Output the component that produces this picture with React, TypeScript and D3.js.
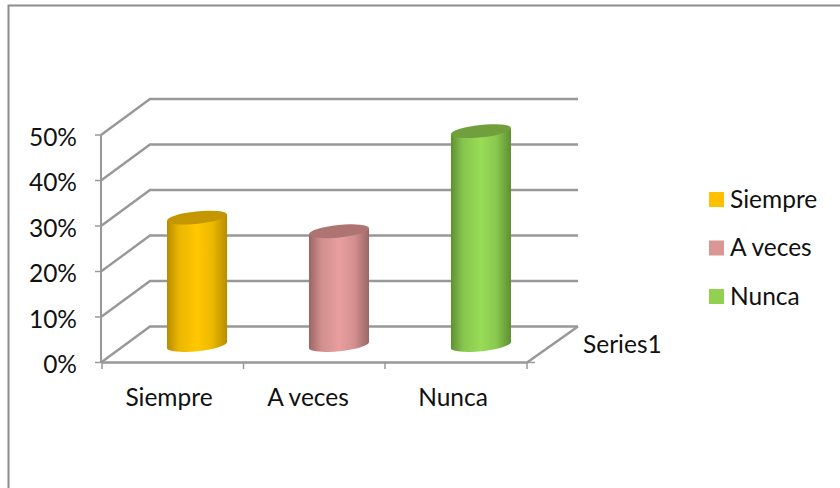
import React from "react";
import * as d3 from "d3";

const categories = ["Siempre", "A veces", "Nunca"];
const values = [28, 25, 47];
const yTicks = [0, 10, 20, 30, 40, 50];
const bodyColors = ["#FFC800", "#E89E9E", "#98DC58"];
const edgeColors = ["#B88C00", "#9A6664", "#5F8F32"];
const topColors = ["#C49600", "#AE7472", "#719F3C"];
const legendColors = ["#FFC000", "#D99694", "#92D050"];
const seriesName = "Series1";

const FONT = "Lato, Carlito, 'Open Sans', sans-serif";
const GRID = "#989898";
const depthX = 49;
const depthY = -36;
const FS = 24.5;

export default function App() {
  const y = d3.scaleLinear().domain([0, 50]).range([362.5, 135]);
  const x = d3.scaleBand<string>().domain(categories).range([102, 527]);
  const baseY = 345;
  const h = y(0) - baseY;
  const rx = 30.2;
  const ry = 6.2;
  const rot = -6;
  const c = Math.cos((rot * Math.PI) / 180);
  const s = Math.sin((rot * Math.PI) / 180);

  return (
    <svg
      width={840}
      height={488}
      style={{ position: "absolute", left: 0, top: 0, background: "#fff" }}
      fontFamily={FONT}
    >
      <defs>
        {categories.map((_, i) => (
          <linearGradient key={i} id={`g${i}`} x1="0" x2="1" y1="0" y2="0">
            <stop offset="0" stopColor={edgeColors[i]} />
            <stop offset="0.2" stopColor={d3.interpolateRgb(edgeColors[i], bodyColors[i])(0.7)} />
            <stop offset="0.5" stopColor={bodyColors[i]} />
            <stop offset="0.75" stopColor={d3.interpolateRgb(edgeColors[i], bodyColors[i])(0.75)} />
            <stop offset="1" stopColor={edgeColors[i]} />
          </linearGradient>
        ))}
      </defs>

      <path d="M840,5.5H8.5V488" fill="none" stroke="#8C8C8C" strokeWidth={2} />

      {yTicks.map((t) => (
        <g key={t}>
          <path
            d={`M${x.range()[0] - 1},${y(t)}L${x.range()[0] - 1 + depthX},${y(t) + depthY}H578`}
            fill="none"
            stroke={GRID}
            strokeWidth={2.4}
          />
          <line x1={95} x2={101} y1={y(t)} y2={y(t)} stroke={GRID} strokeWidth={1.5} />
          <text x={77} y={y(t) + 10.5} textAnchor="end" fontSize={FS} fill="#111">
            {t}%
          </text>
        </g>
      ))}
      <line x1={101} x2={101} y1={y(50)} y2={y(0)} stroke={GRID} strokeWidth={2} />
      <path
        d={`M102,${y(0)}H527L578,${y(0) + depthY}`}
        fill="none"
        stroke={GRID}
        strokeWidth={2.4}
      />
      {[102, 243.5, 385, 527].map((tx) => (
        <line key={tx} x1={tx} x2={tx} y1={y(0)} y2={369} stroke={GRID} strokeWidth={1.5} />
      ))}
      <line x1={527} x2={535} y1={y(0)} y2={y(0)} stroke={GRID} strokeWidth={1.5} />

      {categories.map((cat, i) => {
        const cx = x(cat)! + x.bandwidth() / 2 + 24.2 + i * 0.3;
        const top = y(values[i]) - h;
        const lx = cx - rx * c;
        const rxp = cx + rx * c;
        const d = rx * s;
        return (
          <g key={cat}>
            <path
              d={`M${lx},${top - d}L${lx},${baseY - d}A${rx},${ry} ${rot} 0 0 ${rxp},${baseY + d}L${rxp},${top + d}Z`}
              fill={`url(#g${i})`}
            />
            <ellipse
              cx={0}
              cy={0}
              rx={rx}
              ry={ry}
              fill={topColors[i]}
              transform={`translate(${cx},${top}) rotate(${rot})`}
            />
            <text x={[169, 308, 453][i]} y={406} textAnchor="middle" fontSize={FS} fill="#111">
              {cat}
            </text>
          </g>
        );
      })}

      <text x={583} y={353} fontSize={FS} fill="#111">
        {seriesName}
      </text>

      {categories.map((cat, i) => (
        <g key={cat}>
          <rect x={709} y={192 + i * 48.5} width={15} height={15} fill={legendColors[i]} />
          <text x={730} y={207.5 + i * 48.5} fontSize={FS} fill="#111">
            {cat}
          </text>
        </g>
      ))}
    </svg>
  );
}
